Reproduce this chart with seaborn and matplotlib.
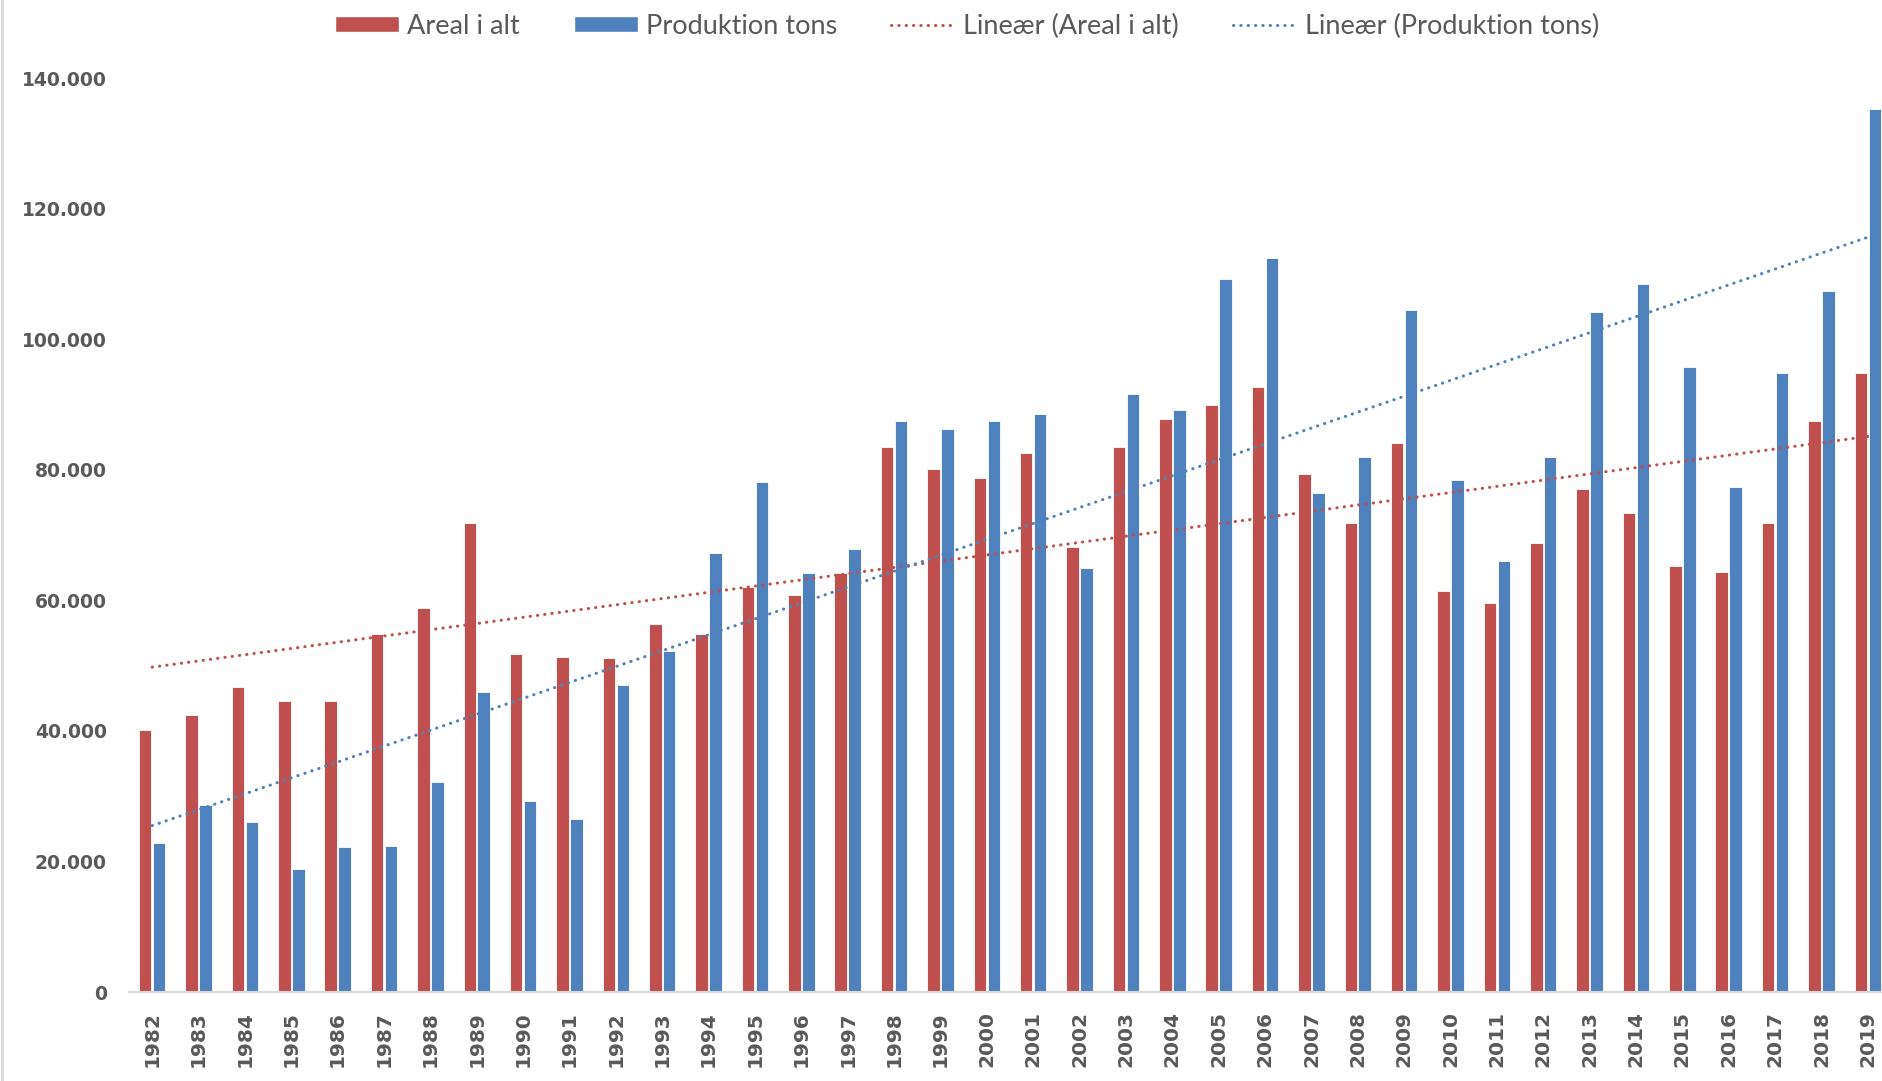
import numpy as np
import pandas as pd
import matplotlib
matplotlib.use("Agg")
import matplotlib.pyplot as plt
from matplotlib.patches import Patch
from matplotlib.lines import Line2D
from matplotlib.ticker import FuncFormatter
import seaborn as sns

years = list(range(1982, 2020))
areal = [40.1, 42.4, 46.7, 44.6, 44.6, 54.9, 58.8, 71.8, 51.7, 51.3,
         51.1, 56.3, 54.8, 62.1, 60.8, 64.2, 83.5, 80.1, 78.7, 82.6,
         68.1, 83.5, 87.8, 89.9, 92.6, 79.3, 71.8, 84.1, 61.4, 59.6,
         68.7, 77.0, 73.4, 65.3, 64.4, 71.9, 87.4, 94.8]
produktion = [22.8, 28.6, 26.1, 18.9, 22.2, 22.4, 32.2, 46.0, 29.2, 26.5,
              47.0, 52.3, 67.3, 78.1, 64.2, 67.9, 87.4, 86.2, 87.4, 88.6,
              65.0, 91.6, 89.1, 109.2, 112.5, 76.4, 82.0, 104.4, 78.4, 66.0,
              82.0, 104.2, 108.4, 95.7, 77.3, 94.8, 107.3, 135.2]
areal = [v * 1000 for v in areal]
produktion = [v * 1000 for v in produktion]

series_names = ["Areal i alt", "Produktion tons"]
trend_names = ["Lineær (Areal i alt)", "Lineær (Produktion tons)"]
y_ticks = [0, 20000, 40000, 60000, 80000, 100000, 120000, 140000]

RED = "#C0504D"
BLUE = "#4F81BD"
TXT = "#595959"

df = pd.DataFrame({
    "year": [str(y) for y in years] * 2,
    "value": areal + produktion,
    "series": [series_names[0]] * len(years) + [series_names[1]] * len(years),
})

sns.set_theme(style="white")
plt.rcParams["font.family"] = ["DejaVu Sans"]

W, H = 1883, 1081
fig = plt.figure(figsize=(W / 100, H / 100), dpi=100)
ax = fig.add_axes([129 / W, (H - 992) / H, 1762 / W, (992 - 78) / H])

sns.barplot(data=df, x="year", y="value", hue="series", palette=[RED, BLUE],
            width=0.6, gap=0.1, edgecolor="white", linewidth=0.6,
            saturation=1, ax=ax, legend=False)

DOTS = (0, (0.1, 2.3))
LW = 2.2
xpos = np.arange(len(years))
for vals, col in [(areal, RED), (produktion, BLUE)]:
    sns.regplot(x=xpos, y=np.array(vals), scatter=False, ci=None, ax=ax,
                line_kws=dict(color=col, lw=LW, linestyle=DOTS,
                              dash_capstyle="round"))

ax.set_xlim(-0.5, len(years) - 0.5)
ax.set_ylim(0, 140000)
ax.set_yticks(y_ticks)
ax.yaxis.set_major_formatter(FuncFormatter(lambda v, p: f"{int(v):,}".replace(",", ".")))
ax.set_xticks(xpos)
ax.set_xticklabels([str(y) for y in years], rotation=90)
ax.set_xlabel("")
ax.set_ylabel("")
ax.grid(False)
for s in ["top", "right", "left"]:
    ax.spines[s].set_visible(False)
ax.spines["bottom"].set_color("#D9D9D9")
ax.spines["bottom"].set_linewidth(1.5)
ax.tick_params(axis="both", length=0)
ax.tick_params(axis="y", pad=16, labelsize=13.5, labelcolor=TXT)
ax.tick_params(axis="x", pad=14, labelsize=14.5, labelcolor=TXT)
for lab in ax.get_yticklabels() + ax.get_xticklabels():
    lab.set_fontweight("bold")

handles = [
    Patch(facecolor=RED, edgecolor="white"),
    Patch(facecolor=BLUE, edgecolor="white"),
    Line2D([0], [0], color=RED, lw=LW, linestyle=DOTS, dash_capstyle="round"),
    Line2D([0], [0], color=BLUE, lw=LW, linestyle=DOTS, dash_capstyle="round"),
]
leg = fig.legend(handles, series_names + trend_names, loc="center",
                 bbox_to_anchor=(967 / W, 1 - 26 / H), ncol=4, frameon=False,
                 prop={"family": "Lato", "size": 19.5}, handlelength=2.35,
                 handleheight=0.53, handletextpad=0.3, columnspacing=2.0)
for t in leg.get_texts():
    t.set_color(TXT)

fig.add_artist(Line2D([0.0012, 0.0012], [0, 1], color="#D9D9D9", lw=2,
                      transform=fig.transFigure))

fig.savefig("out.png", dpi=100, facecolor="white")
